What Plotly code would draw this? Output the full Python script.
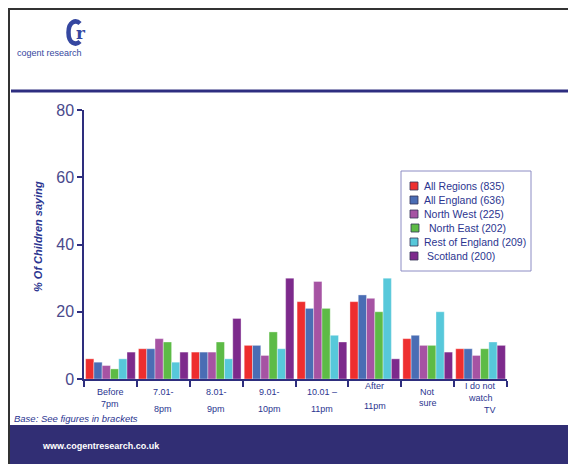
import plotly.graph_objects as go

categories = ["Before 7pm", "7.01-8pm", "8.01-9pm", "9.01-10pm", "10.01-11pm", "After 11pm", "Not sure", "I do not watch TV"]
tick_labels = [["Before", "7pm"], ["7.01-", "8pm"], ["8.01-", "9pm"], ["9.01-", "10pm"],
               ["10.01 \u2013", "11pm"], ["After", "11pm"], ["Not", "sure"], ["I do not", "watch", "TV"]]
series_names = ["All Regions (835)", "All England (636)", "North West (225)",
                "North East (202)", "Rest of England (209)", "Scotland (200)"]
all_regions = [6, 9, 8, 10, 23, 23, 12, 9]
all_england = [5, 9, 8, 10, 21, 25, 13, 9]
north_west = [4, 12, 8, 7, 29, 24, 10, 7]
north_east = [3, 11, 11, 14, 21, 20, 10, 9]
rest_of_england = [6, 5, 6, 9, 13, 30, 20, 11]
scotland = [8, 8, 18, 30, 11, 6, 8, 10]
series_values = [all_regions, all_england, north_west, north_east, rest_of_england, scotland]
colors = ["#EE2E2E", "#4A6DB4", "#A653A3", "#5DBB46", "#57C8DA", "#7D2A8C"]

# page is offset by the 8px default body margin
OFF = 8
W, H = 576 - OFF, 464 - OFF
L, R, T, B = 84, 507, 110, 379  # plot area in window pixels

def px(x):
    return (x - L) / (R - L)

def py(y):
    return (B - y) / (B - T)

fig = go.Figure()
for name, vals, c in zip(series_names, series_values, colors):
    fig.add_trace(go.Bar(x=categories, y=vals, name=name, showlegend=False,
                         marker=dict(color=c, line=dict(color="rgba(255,255,255,0.6)", width=0.6))))

navy = "#2E2E7E"
txt = "#2B3590"
logo = "#3547A0"
fig.update_layout(
    width=W, height=H, margin=dict(l=L - OFF, r=576 - R, t=T - OFF, b=464 - B),
    paper_bgcolor="white", plot_bgcolor="white",
    barmode="group", bargap=0.06, bargroupgap=0.0,
    xaxis=dict(range=[-0.5, 7.5], showticklabels=False, showline=True, linecolor=navy, linewidth=1.5,
               ticks="outside", tickson="boundaries", ticklen=6, tickcolor=navy, tickwidth=1.5,
               showgrid=False, zeroline=False, fixedrange=True),
    yaxis=dict(range=[0, 80], tickvals=[0, 20, 40, 60, 80], showline=True, linecolor=navy, linewidth=1.5,
               ticks="outside", ticklen=5, tickcolor=navy, tickwidth=1.5, showgrid=False, zeroline=False,
               tickfont=dict(family="Liberation Sans, Arial", size=16, color="#4A4A8C")),
    font=dict(family="Liberation Sans, Arial"),
)

# category tick labels
line_ys = [[392, 404], [392, 409], [392, 409], [392, 409], [392, 409], [386, 406], [392, 403], [386, 398, 410]]
for i, (lines, ys) in enumerate(zip(tick_labels, line_ys)):
    for j, (t, yy) in enumerate(zip(lines, ys)):
        xs = 0.18 if (i == 7 and j == 2) else 0
        fig.add_annotation(x=i + xs, xref="x", y=py(yy), yref="paper", text=t, showarrow=False,
                           xanchor="center", yanchor="middle",
                           font=dict(family="Liberation Sans, Arial", size=9, color=txt))

def pt(x, y):
    return f"{px(x):.5f},{py(y):.5f}"

c_path = ("M " + pt(80, 23.5) + " C " + pt(76, 19.5) + " " + pt(68.5, 21) + " " + pt(68.5, 32.5)
          + " C " + pt(68.5, 44) + " " + pt(76, 45.5) + " " + pt(80, 41.5))

shapes = [
    dict(type="line", xref="paper", yref="paper", x0=px(9), x1=px(9), y0=py(8), y1=py(464), line=dict(color="#333333", width=2)),
    dict(type="line", xref="paper", yref="paper", x0=px(9), x1=px(578), y0=py(9), y1=py(9), line=dict(color="#333333", width=2)),
    dict(type="line", xref="paper", yref="paper", x0=px(11), x1=px(578), y0=py(91), y1=py(91), line=dict(color="#2E2E80", width=3)),
    dict(type="rect", xref="paper", yref="paper", x0=px(10), x1=px(580), y0=py(425), y1=py(466), line=dict(width=0), fillcolor="#312E74", layer="above"),
    dict(type="path", xref="paper", yref="paper", path=c_path, line=dict(color=logo, width=4.5)),
    # legend box
    dict(type="rect", xref="paper", yref="paper", x0=px(401), x1=px(531), y0=py(171), y1=py(271),
         line=dict(color="#8C8CC4", width=1), fillcolor="white", layer="above"),
]

# manual legend
leg_x = [410, 410, 410, 411, 410, 410]
txt_x = [422, 422, 422, 427, 422, 425]
for k, (name, c) in enumerate(zip(series_names, colors)):
    yc = 186 + 14 * k
    shapes.append(dict(type="rect", xref="paper", yref="paper", x0=px(leg_x[k]), x1=px(leg_x[k] + 8),
                       y0=py(yc - 4), y1=py(yc + 4), line=dict(color="#333355", width=0.8), fillcolor=c, layer="above"))
    fig.add_annotation(x=px(txt_x[k]), y=py(yc), xref="paper", yref="paper", text=name, showarrow=False,
                       xanchor="left", yanchor="middle",
                       font=dict(family="Liberation Sans, Arial", size=10.5, color=txt))
fig.update_layout(shapes=shapes)

fig.add_annotation(x=px(38), y=py(237), xref="paper", yref="paper", text="<b><i>% Of Children saying</i></b>",
                   textangle=-90, showarrow=False, xanchor="center", yanchor="middle",
                   font=dict(family="Liberation Sans, Arial", size=11, color=txt))
fig.add_annotation(x=px(12), y=py(418), xref="paper", yref="paper", text="<i>Base: See figures in brackets</i>",
                   xanchor="left", yanchor="middle", showarrow=False,
                   font=dict(family="Liberation Sans, Arial", size=9.5, color=txt))
fig.add_annotation(x=px(40), y=py(446), xref="paper", yref="paper", text="<b>www.cogentresearch.co.uk</b>",
                   xanchor="left", yanchor="middle", showarrow=False,
                   font=dict(family="Liberation Sans, Arial", size=9, color="white"))
fig.add_annotation(x=px(81), y=py(33), xref="paper", yref="paper", text="<b>r</b>", xanchor="center", yanchor="middle",
                   showarrow=False, font=dict(family="DejaVu Serif", size=17, color=logo))
fig.add_annotation(x=px(15), y=py(53), xref="paper", yref="paper", text="cogent research",
                   xanchor="left", yanchor="middle", showarrow=False,
                   font=dict(family="Liberation Sans, Arial", size=9, color=logo))

fig.write_html("out.html")
